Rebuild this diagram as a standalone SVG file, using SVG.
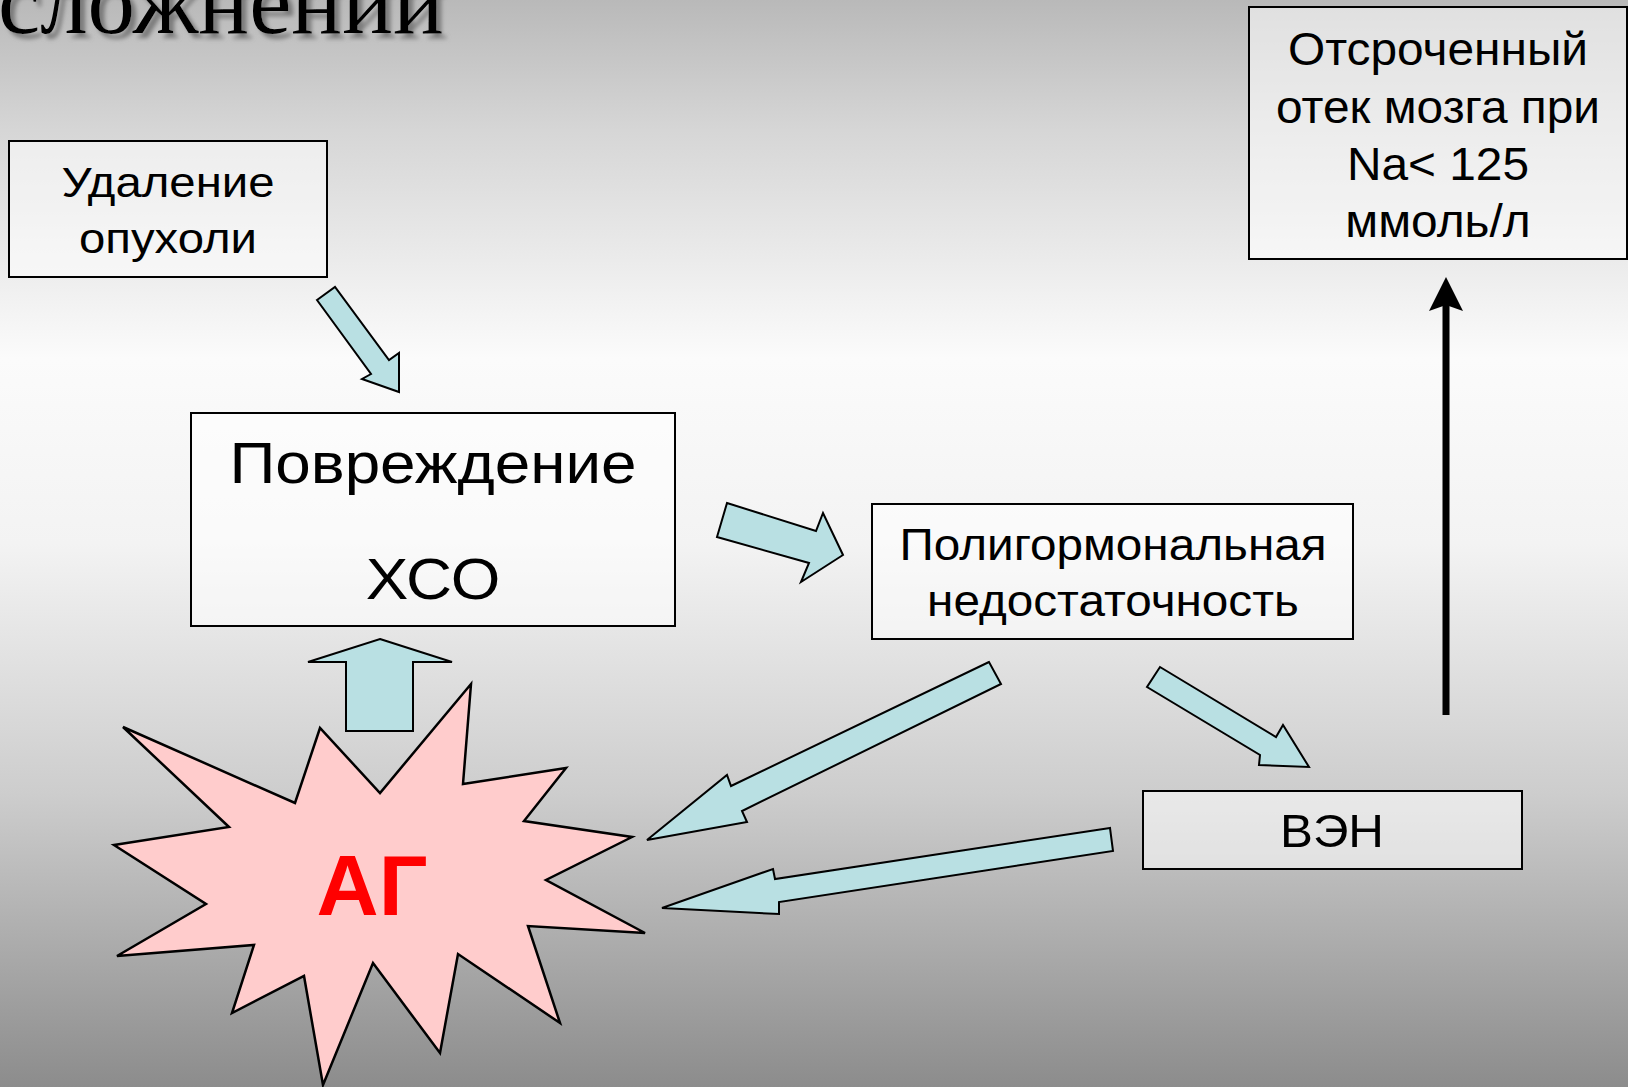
<svg xmlns="http://www.w3.org/2000/svg" width="1628" height="1087" viewBox="0 0 1628 1087">
<defs>
<linearGradient id="bg" x1="0" y1="0" x2="0" y2="1">
<stop offset="0" stop-color="#b9b9b9"/>
<stop offset="0.12" stop-color="#d6d6d6"/>
<stop offset="0.33" stop-color="#fbfbfb"/>
<stop offset="0.5" stop-color="#f3f3f3"/>
<stop offset="0.73" stop-color="#cdcdcd"/>
<stop offset="1" stop-color="#8c8c8c"/>
</linearGradient>
<filter id="shadow" x="-10%" y="-50%" width="130%" height="200%">
<feGaussianBlur in="SourceAlpha" stdDeviation="2"/>
<feOffset dx="5" dy="5" result="b"/>
<feFlood flood-color="#7a7a7a"/>
<feComposite in2="b" operator="in"/>
<feMerge><feMergeNode/><feMergeNode in="SourceGraphic"/></feMerge>
</filter>
<style>
.box{fill:#ffffff;fill-opacity:0.55;stroke:#000;stroke-width:2}
.lbl{font-family:"Liberation Sans",Arial,sans-serif;fill:#000;text-anchor:middle}
.blk{fill:#b9e0e3;stroke:#000;stroke-width:2;stroke-linejoin:miter}
</style>
</defs>
<rect x="0" y="0" width="1628" height="1087" fill="url(#bg)"/>
<text x="-2" y="33" font-family="'Liberation Serif','Times New Roman',serif" font-size="95" fill="#000" filter="url(#shadow)">сложнений</text>

<g id="node-udalenie">
<rect class="box" x="9" y="141" width="318" height="136"/>
<g transform="translate(168 0) scale(1.1 1)">
<text class="lbl" x="0" y="197" font-size="43">Удаление</text>
<text class="lbl" x="0" y="253" font-size="43">опухоли</text>
</g>
</g>

<g id="node-povrezhdenie">
<rect class="box" x="191" y="413" width="484" height="213"/>
<g transform="translate(433 0) scale(1.1 1)">
<text class="lbl" x="0" y="483" font-size="58">Повреждение</text>
<text class="lbl" x="0" y="599" font-size="58">ХСО</text>
</g>
</g>

<g id="node-poligormonal">
<rect class="box" x="872" y="504" width="481" height="135"/>
<g transform="translate(1113 0) scale(1.06 1)">
<text class="lbl" x="0" y="560" font-size="45">Полигормональная</text>
<text class="lbl" x="0" y="616" font-size="45">недостаточность</text>
</g>
</g>

<g id="node-ven">
<rect class="box" x="1143" y="791" width="379" height="78"/>
<g transform="translate(1332 0) scale(1.05 1)">
<text class="lbl" x="0" y="847" font-size="47">ВЭН</text>
</g>
</g>

<g id="node-otek">
<rect class="box" x="1249" y="7" width="378" height="252"/>
<g transform="translate(1438 0) scale(1.04 1)">
<text class="lbl" x="0" y="65" font-size="46">Отсроченный</text>
<text class="lbl" x="0" y="123" font-size="46">отек мозга при</text>
<text class="lbl" x="0" y="180" font-size="46">Na&lt; 125</text>
<text class="lbl" x="0" y="237" font-size="46">ммоль/л</text>
</g>
</g>

<g id="node-ag">
<polygon points="123,727 295,803 320,728 380,793 471,684 463,784 566,768 524,821 632,837 546,880 645,933 528,926 560,1023 458,954 440,1053 373,963 323,1085 304,976 232,1013 254,945 117,956 206,904 114,845 229,827" fill="#ffcccc" stroke="#000" stroke-width="2.5" stroke-linejoin="miter"/>
<text x="372" y="915" font-family="'Liberation Sans',Arial,sans-serif" font-size="86" font-weight="bold" fill="#ff0000" text-anchor="middle">АГ</text>
</g>

<g id="connectors">
<polygon class="blk" points="317,300 335,287 389,360 399,353 399,392 362,379 371,374"/>
<polygon class="blk" points="727,503 816,531 823,513 843,555 801,582 809,563 717,537"/>
<polygon class="blk" points="989,662 731,786 727,775 647,840 747,822 742,811 1001,684"/>
<polygon class="blk" points="1160,667 1276,737 1283,725 1309,767 1259,765 1260,755 1147,687"/>
<polygon class="blk" points="1110,828 775,879 773,869 662,908 779,914 779,902 1113,851"/>
<polygon class="blk" points="380,639 452,662 413,662 413,731 346,731 346,662 308,662"/>
<line x1="1446" y1="715" x2="1446" y2="300" stroke="#000" stroke-width="7"/>
<polygon points="1446,277 1463,311 1446,305 1429,311" fill="#000"/>
</g>
</svg>
